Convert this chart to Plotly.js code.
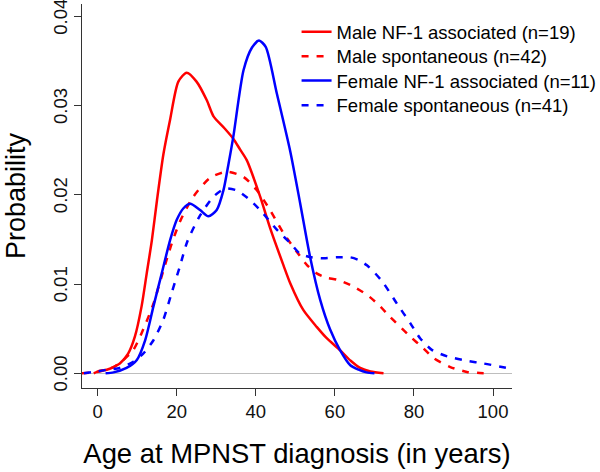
<!DOCTYPE html>
<html>
<head>
<meta charset="utf-8">
<script src="https://cdn.plot.ly/plotly-3.0.1.min.js"></script>
<style>html,body{margin:0;padding:0;background:#fff;}#chart{width:600px;height:472px;}</style>
</head>
<body>
<div id="chart"></div>
<script>
// Series names
var seriesNames = [
  "Male NF-1 associated (n=19)",
  "Male spontaneous (n=42)",
  "Female NF-1 associated (n=11)",
  "Female spontaneous (n=41)"
];

// Male NF-1 associated (red solid)
var maleNF1X = [-1, 0.6, 2.3, 4, 5.6, 7.7, 9.4, 11.1, 12.4, 13.7, 15, 16.6, 18.3, 20.4, 22.5, 25, 27.6, 29.3, 32, 34.3, 36, 37.7, 41.1, 43.6, 47, 48.7, 52, 55.4, 58, 61.3, 64, 66.4, 69, 72.3];
var maleNF1Y = [0, 0.0003, 0.0004, 0.0007, 0.0011, 0.0022, 0.0041, 0.0075, 0.0112, 0.0149, 0.0194, 0.0245, 0.0284, 0.0327, 0.0337, 0.0327, 0.0306, 0.0288, 0.0275, 0.0263, 0.0251, 0.0239, 0.0198, 0.0163, 0.0121, 0.0101, 0.0071, 0.0052, 0.0039, 0.0026, 0.0014, 0.0006, 0.0002, 0];

// Male spontaneous (red dashed)
var maleSpX = [-4, -1, 1.4, 4, 6.5, 9, 11.5, 14.1, 16.6, 18.7, 20.8, 24.2, 28.4, 32.7, 36.9, 40.3, 43.6, 47, 50.4, 53, 55.4, 58, 60.5, 63.9, 68.1, 71, 74, 79.1, 82.4, 85, 89.2, 93.4, 96, 98.5];
var maleSpY = [0, 0.0001, 0.0003, 0.0007, 0.0015, 0.0026, 0.0049, 0.0078, 0.0115, 0.0145, 0.017, 0.0198, 0.0219, 0.0226, 0.022, 0.0205, 0.0183, 0.0157, 0.0136, 0.0121, 0.0112, 0.0107, 0.0105, 0.0099, 0.0088, 0.0077, 0.0063, 0.0041, 0.0028, 0.0017, 0.0007, 0.00015, 0.00005, 0];

// Female NF-1 associated (blue solid)
var femaleNF1X = [2, 4, 7.3, 9.9, 12, 14.1, 16.2, 18.3, 20, 21.7, 23.4, 25.9, 28, 30.1, 31.8, 33.1, 34.3, 36.9, 39, 40.8, 42.5, 45.3, 48.7, 51.2, 53.7, 56.3, 58.8, 61.3, 63.9, 66, 68, 70];
var femaleNF1Y = [0, 0.0001, 0.0006, 0.0015, 0.0037, 0.0075, 0.0112, 0.0149, 0.0172, 0.0185, 0.019, 0.0183, 0.0176, 0.0183, 0.0205, 0.0235, 0.0265, 0.034, 0.0365, 0.0373, 0.0366, 0.0314, 0.0249, 0.0191, 0.0131, 0.0082, 0.0049, 0.0026, 0.0009, 0.0004, 0.0001, 0];

// Female spontaneous (blue dashed)
var femaleSpX = [-3.5, -0.3, 2.5, 5.6, 9, 11.5, 14.1, 16.6, 18.7, 20.8, 22.7, 25.9, 29.3, 32.2, 35.2, 38.6, 41.9, 45.3, 48.7, 51.2, 54, 57.1, 60.5, 63.9, 66, 68.1, 70.2, 72.3, 75.7, 79.1, 81.6, 84.6, 88.4, 93.4, 97.6, 104];
var femaleSpY = [0, 0.0002, 0.0004, 0.0006, 0.0013, 0.0022, 0.0037, 0.006, 0.009, 0.012, 0.0148, 0.0177, 0.0198, 0.0207, 0.0205, 0.0194, 0.0179, 0.0161, 0.0146, 0.0134, 0.013, 0.0129, 0.013, 0.013, 0.0127, 0.0121, 0.0112, 0.0101, 0.0078, 0.0056, 0.0039, 0.0026, 0.0019, 0.0014, 0.0011, 0.00056];

// Axis ticks
var xTickVals = [0, 20, 40, 60, 80, 100];
var yTickVals = [0, 0.01, 0.02, 0.03, 0.04];
var yTickText = ["0.00", "0.01", "0.02", "0.03", "0.04"];

var FONT = "Liberation Sans, Arial, Helvetica, sans-serif";

function mk(x, y, name, color, dash, leg) {
  return {
    type: "scatter", mode: "lines", x: x, y: y, name: name,
    line: {color: color, width: 2.5, dash: dash, shape: "spline", smoothing: 0.7},
    legend: leg, showlegend: true, hoverinfo: "skip"
  };
}

var traces = [
  mk(maleNF1X, maleNF1Y, seriesNames[0], "#ff0000", "solid", "legend"),
  mk(maleSpX, maleSpY, seriesNames[1], "#ff0000", "7px,8px", "legend2"),
  mk(femaleNF1X, femaleNF1Y, seriesNames[2], "#0000ff", "solid", "legend3"),
  mk(femaleSpX, femaleSpY, seriesNames[3], "#0000ff", "7px,8px", "legend4")
];

function legendAt(yc) {
  return {x: 0.499, xanchor: "left", y: yc, yanchor: "middle",
    font: {family: FONT, size: 18.5, color: "#000"},
    bgcolor: "rgba(0,0,0,0)", borderwidth: 0, itemwidth: 30};
}

var layout = {
  width: 600, height: 472,
  margin: {l: 82, r: 88, t: 4, b: 84, autoexpand: false},
  paper_bgcolor: "#fff", plot_bgcolor: "#fff",
  font: {family: FONT, color: "#000"},
  xaxis: {
    range: [-3.97, 104.8], tickvals: xTickVals, ticks: "outside", ticklen: 7,
    tickwidth: 1, tickcolor: "#333", showline: true, linecolor: "#333", linewidth: 1,
    showgrid: false, zeroline: false, tickfont: {family: FONT, size: 18.5, color: "#111"},
    title: {text: "Age at MPNST diagnosis (in years)", font: {family: FONT, size: 27.4, color: "#000"}, standoff: 22}
  },
  yaxis: {
    range: [-0.00165, 0.0414], tickvals: yTickVals, ticktext: yTickText, tickangle: -90,
    ticklabeloverflow: "allow", ticklabelshift: 3,
    ticks: "outside", ticklen: 7, tickwidth: 1, tickcolor: "#333", showline: true,
    linecolor: "#333", linewidth: 1, showgrid: false,
    zeroline: true, zerolinecolor: "#bebebe", zerolinewidth: 1,
    tickfont: {family: FONT, size: 18.5, color: "#111"},
    title: {text: "Probability", font: {family: FONT, size: 27, color: "#000"}, standoff: 16}
  },
  legend: legendAt(0.9263),
  legend2: legendAt(0.8628),
  legend3: legendAt(0.7995),
  legend4: legendAt(0.7352)
};

Plotly.newPlot("chart", traces, layout, {displayModeBar: false, staticPlot: true});
</script>
</body>
</html>
